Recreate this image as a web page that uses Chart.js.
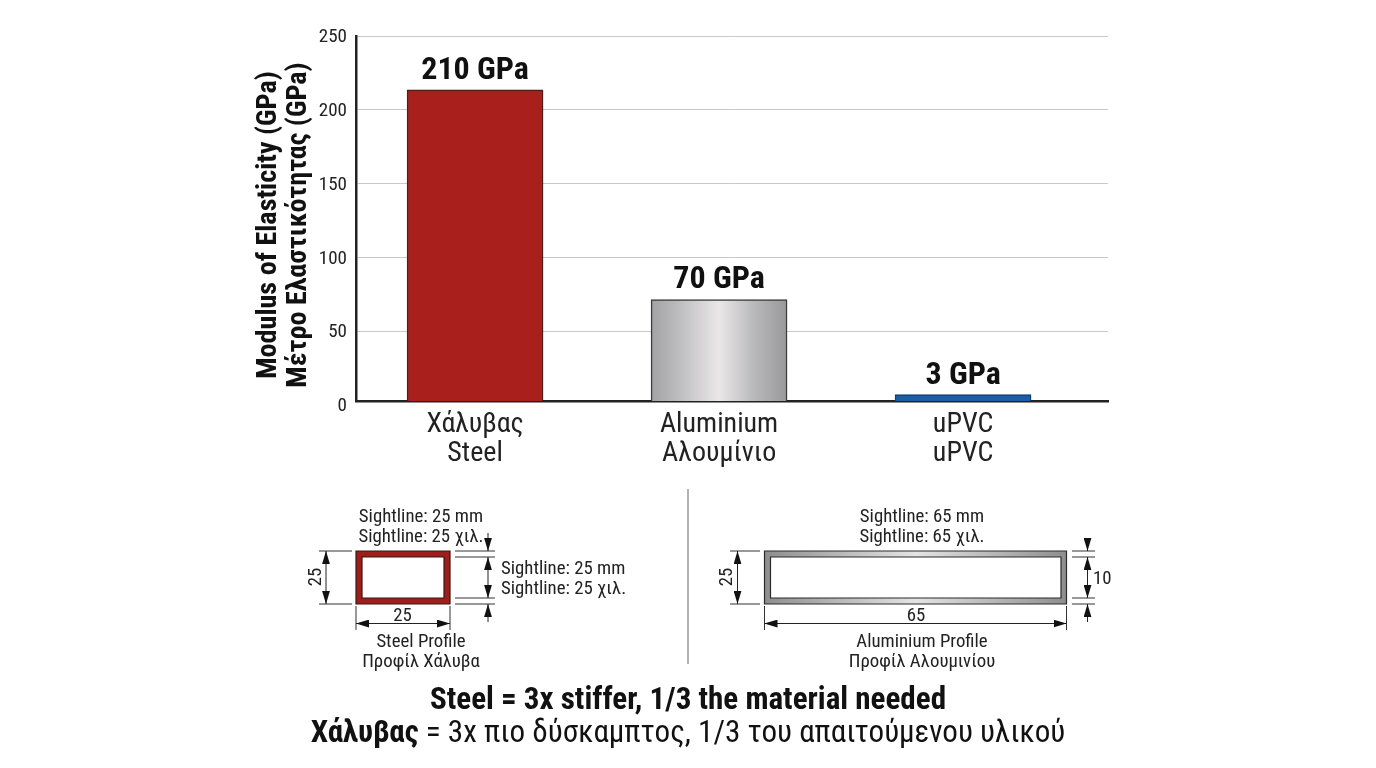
<!DOCTYPE html>
<html>
<head>
<meta charset="utf-8">
<script src="https://cdn.jsdelivr.net/npm/chart.js@4"></script>
<style>
  html, body { margin: 0; background: #fff; }
  #wrap { position: relative; width: 1376px; height: 768px; overflow: hidden; }
  #chart { position: absolute; left: 0; top: 0; }
  svg { position: absolute; left: 0; top: 0; font-family: Roboto, sans-serif; font-stretch: condensed; fill: #222; }
  svg text { font-size: 18.8px; text-anchor: middle; dominant-baseline: central; }
  svg text.left { text-anchor: start; }
  svg text.big { font-size: 31.1px; fill: #111; }
  svg .dim { stroke: #333; stroke-width: 1; fill: none; }
  svg .arrow { stroke: #222; stroke-width: 1; fill: none; marker-end: url(#tip); }
  svg .double { stroke: #222; stroke-width: 1; fill: none; marker-start: url(#tip); marker-end: url(#tip); }
</style>
</head>
<body>
<div id="wrap">
  <canvas id="chart" width="1376" height="480"></canvas>
  <svg width="1376" height="768">
    <defs>
      <marker id="tip" viewBox="0 0 10 6" refX="10" refY="3" markerWidth="13" markerHeight="8" markerUnits="userSpaceOnUse" orient="auto-start-reverse">
        <path d="M0 0 L10 3 L0 6 Z" fill="#111"></path>
      </marker>
      <linearGradient id="frameGrey" x1="0" x2="1" y1="0" y2="0">
        <stop offset="0" stop-color="#8e8e90"></stop>
        <stop offset="0.5" stop-color="#e4e4e6"></stop>
        <stop offset="1" stop-color="#8e8e90"></stop>
      </linearGradient>
    </defs>

    <!-- steel profile -->
    <path d="M356 551H450V604H356Z M362 557V598H444V557Z" fill="#9c1f1c" fill-rule="evenodd" stroke="#3c1412" stroke-width="1.2"></path>
    <text x="421" y="516">Sightline: 25 mm</text>
    <text x="421" y="536">Sightline: 25 χιλ.</text>
    <path class="dim" d="M319 551H352 M319 604H352 M356 606V630 M450 606V630 M455 551H495 M455 557H495 M455 598H495 M455 604H495"></path>
    <path class="double" d="M326 551V604"></path>
    <path class="double" d="M356 623.5H450"></path>
    <path class="arrow" d="M488 533V551"></path>
    <path class="double" d="M488 557V598"></path>
    <path class="arrow" d="M488 622V604"></path>
    <text x="315" y="577" transform="rotate(-90 315 577)">25</text>
    <text x="402.500" y="615">25</text>
    <text class="left" x="501" y="568">Sightline: 25 mm</text>
    <text class="left" x="501" y="587.500">Sightline: 25 χιλ.</text>
    <text x="421" y="641">Steel Profile</text>
    <text x="421" y="661">Προφίλ Χάλυβα</text>

    <!-- divider -->
    <path d="M688 489V664" stroke="#9a9a9a" stroke-width="1.500" fill="none"></path>

    <!-- aluminium profile -->
    <path d="M764.500 551H1066.500V604H764.500Z M770.500 557V598H1061V557Z" fill="url(#frameGrey)" fill-rule="evenodd" stroke="#2a2a2a" stroke-width="1.2"></path>
    <text x="922" y="516">Sightline: 65 mm</text>
    <text x="922" y="536">Sightline: 65 χιλ.</text>
    <path class="dim" d="M730 551H760 M730 604H760 M764.500 606V630 M1066.500 606V630 M1072 551H1095 M1072 557H1095 M1072 598H1095 M1072 604H1095"></path>
    <path class="double" d="M737.500 551V604"></path>
    <path class="double" d="M764.500 623.500H1066.500"></path>
    <path class="arrow" d="M1087.500 541V551"></path>
    <path class="double" d="M1087.500 557V598"></path>
    <path class="arrow" d="M1087.500 622V604"></path>
    <text x="726" y="577" transform="rotate(-90 726 577)">25</text>
    <text x="916" y="615">65</text>
    <text class="left" x="1093" y="578">10</text>
    <text x="922" y="641">Aluminium Profile</text>
    <text x="922" y="661">Προφίλ Αλουμινίου</text>

    <!-- conclusion -->
    <text class="big" x="688" y="698" font-weight="700">Steel = 3x stiffer, 1/3 the material needed</text>
    <text class="big" x="688" y="731"><tspan font-weight="700">Χάλυβας</tspan> = 3x πιο δύσκαμπτος, 1/3 του απαιτούμενου υλικού</text>
  </svg>
</div>
<script>
    const categories = [["Χάλυβας", "Steel"], ["Aluminium", "Αλουμίνιο"], ["uPVC", "uPVC"]];
    const modulusValues = [213.5, 71.5, 7];
    const valueLabels = ["210 GPa", "70 GPa", "3 GPa"];
    const yTicks = [0, 50, 100, 150, 200, 250];
    const yTitle = ["Modulus of Elasticity (GPa)", "Μέτρο Ελαστικότητας (GPa)"];

    const FONT = "Roboto, sans-serif";
    const STRETCH = "condensed"; // chart.js drops it as a style, so it goes in with the weight

    // --- BAR FILLS ---
    function barFill(context) {
        if (context.dataIndex === 0) return "#a81f1b";
        if (context.dataIndex === 2) return "#1a5ea6";
        const chart = context.chart;
        const mid = chart.scales.x.getPixelForValue(1);
        const g = chart.ctx.createLinearGradient(mid - 68, 0, mid + 68, 0);
        g.addColorStop(0, "#a2a2a5");
        g.addColorStop(0.2, "#bcbcbe");
        g.addColorStop(0.5, "#ebe7e9");
        g.addColorStop(0.75, "#bababc");
        g.addColorStop(1, "#98989b");
        return g;
    }
    const barBorders = ["#4e1c1a", "#3a3a3a", "#123f70"];

    // --- VALUE LABELS AND THE Y TITLE ---
    // the title sits lower than the scale's own title would, so it is drawn here
    const textPlugin = {
        id: "chartText",
        afterDatasetsDraw(chart) {
            const { ctx } = chart;
            ctx.save();
            ctx.font = STRETCH + " 700 32px " + FONT;
            ctx.fillStyle = "#111";
            ctx.textAlign = "center";
            ctx.textBaseline = "middle";
            chart.getDatasetMeta(0).data.forEach((bar, i) => {
                ctx.fillText(valueLabels[i], bar.x, bar.y - 19);
            });
            ctx.font = STRETCH + " 700 28.2px " + FONT;
            yTitle.forEach((line, i) => {
                ctx.save();
                ctx.translate(269 + i * 30, 225);
                ctx.rotate(-Math.PI / 2);
                ctx.fillText(line, 0, 0);
                ctx.restore();
            });
            ctx.restore();
        }
    };

    // --- CHART INITIALIZATION ---
    const ctx = document.getElementById("chart").getContext("2d");
    new Chart(ctx, {
        type: "bar",
        plugins: [textPlugin],
        data: {
            datasets: [{
                data: modulusValues.map((v, i) => ({ x: i, y: v })),
                backgroundColor: barFill,
                borderColor: barBorders,
                borderWidth: 1.5,
                barThickness: 136
            }]
        },
        options: {
            responsive: false,
            animation: false,
            layout: { padding: { left: 250, right: 268, top: 36, bottom: 0 } },
            plugins: { legend: { display: false }, tooltip: { enabled: false } },
            scales: {
                x: {
                    type: "linear",
                    offset: false,
                    min: -0.488,
                    max: 2.594,
                    grid: { display: false },
                    border: { color: "#222", width: 2.5 },
                    afterBuildTicks: (scale) => { scale.ticks = categories.map((c, i) => ({ value: i })); },
                    afterFit: (scale) => { scale.height = 79; },
                    ticks: {
                        autoSkip: false,
                        maxRotation: 0,
                        padding: 1,
                        color: "#222",
                        font: { family: FONT, weight: STRETCH, size: 28, lineHeight: 1.04 },
                        callback: (value) => categories[value]
                    }
                },
                y: {
                    min: 2.7, // the drawn floor of the bars sits just above the 0 tick
                    max: 250,
                    grid: {
                        drawTicks: false,
                        lineWidth: 1,
                        color: (c) => (c.tick && (c.tick.value === 0) ? "rgba(0,0,0,0)" : "#c9c9c9")
                    },
                    border: { color: "#222", width: 2.5 },
                    afterBuildTicks: (scale) => { scale.ticks = yTicks.map((v) => ({ value: v })); },
                    afterFit: (scale) => { scale.width = 106; },
                    ticks: {
                        autoSkip: false,
                        padding: 9,
                        labelOffset: 1.5,
                        color: "#222",
                        font: { family: FONT, weight: STRETCH, size: 19 }
                    }
                }
            }
        }
    });
</script>
</body>
</html>
